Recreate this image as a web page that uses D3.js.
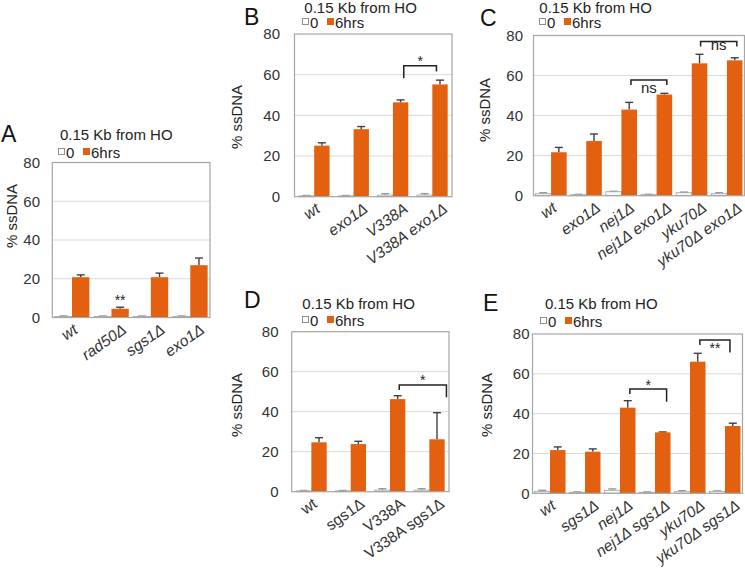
<!DOCTYPE html>
<html><head><meta charset="utf-8">
<script src="https://cdn.jsdelivr.net/npm/d3@7"></script>
<style>
body{margin:0;background:#fff}
svg{display:block}
text{font-family:"Liberation Sans",Arial,sans-serif;fill:#222}
</style>
</head><body>
<svg id="chart" width="745" height="571"></svg>
<script>
// ---------- data ----------
const yTicks = [0, 20, 40, 60, 80];
const seriesNames = ["0", "6hrs"];
const titleText = "0.15 Kb from HO";
const yLabelText = "% ssDNA";

const catsA = ["wt", "rad50Δ", "sgs1Δ", "exo1Δ"];
const zeroA = [0.5, 0.5, 0.5, 0.5];
const zeroErrA = [0.3, 0.3, 0.3, 0.3];
const hrsA = [20.8, 4.5, 20.8, 27.0];
const hrsErrA = [1.2, 0.8, 2.1, 3.7];
const marksA = [{cat: 1, text: "**", y: 6.6}];
const bracketsA = [];

const catsB = ["wt", "exo1Δ", "V338A", "V338A exo1Δ"];
const zeroB = [0.4, 0.4, 0.8, 0.8];
const zeroErrB = [0.2, 0.2, 0.7, 0.7];
const hrsB = [25.1, 33.2, 46.4, 55.2];
const hrsErrB = [1.4, 1.3, 1.2, 2.1];
const marksB = [];
const bracketsB = [{from: 2, to: 3, dFrom: 0.08, dTo: -0.09, top: 64.4, legFrom: 58.2, legTo: 61.5, text: "*", textY: 64.3}];

const catsC = ["wt", "exo1Δ", "nej1Δ", "nej1Δ exo1Δ", "yku70Δ", "yku70Δ exo1Δ"];
const zeroC = [1.0, 0.5, 2.0, 0.5, 1.5, 1.0];
const zeroErrC = [0.5, 0.2, 0.2, 0.2, 0.3, 0.5];
const hrsC = [21.7, 27.3, 43.0, 50.5, 66.1, 67.6];
const hrsErrC = [2.4, 3.5, 3.6, 0.6, 4.5, 1.3];
const marksC = [];
const bracketsC = [
  {from: 2, to: 3, dFrom: 0.05, dTo: 0.07, top: 57.8, legFrom: 55.3, legTo: 55.3, text: "ns", textY: 51.2},
  {from: 4, to: 5, dFrom: 0.03, dTo: 0.06, top: 77.0, legFrom: 74.5, legTo: 74.5, text: "ns", textY: 72.8}
];

const catsD = ["wt", "sgs1Δ", "V338A", "V338A sgs1Δ"];
const zeroD = [0.4, 0.4, 0.8, 0.8];
const zeroErrD = [0.2, 0.2, 0.7, 0.7];
const hrsD = [24.7, 23.8, 46.3, 26.2];
const hrsErrD = [2.3, 1.4, 1.7, 13.3];
const marksD = [];
const bracketsD = [{from: 2, to: 3, dFrom: 0.04, dTo: 0.24, top: 53.4, legFrom: 50.9, legTo: 47.2, text: "*", textY: 53.5}];

const catsE = ["wt", "sgs1Δ", "nej1Δ", "nej1Δ sgs1Δ", "yku70Δ", "yku70Δ sgs1Δ"];
const zeroE = [1.0, 0.5, 1.5, 0.5, 0.8, 1.0];
const zeroErrE = [0.5, 0.2, 0.7, 0.2, 0.5, 0.2];
const hrsE = [21.7, 20.9, 43.0, 30.6, 66.1, 33.8];
const hrsErrE = [1.6, 1.4, 3.5, 0.2, 4.2, 1.4];
const marksE = [];
const bracketsE = [
  {from: 2, to: 3, dFrom: 0.06, dTo: 0.11, top: 52.4, legFrom: 49.9, legTo: 46.0, text: "*", textY: 52.1},
  {from: 4, to: 5, dFrom: 0.06, dTo: -0.08, top: 77.0, legFrom: 74.5, legTo: 70.7, text: "**", textY: 70.5}
];

// ---------- layout / style ----------
const ORANGE = "#e2600f";
const LABEL_ANGLE = 35;
const panels = [
  {letter: "A", cats: catsA, zero: zeroA, zeroErr: zeroErrA, hrs: hrsA, hrsErr: hrsErrA, marks: marksA, brackets: bracketsA,
   x0: 52.3, x1: 210, y0: 162.5, y1: 317.5, gap: 0.12, letterX: 1, letterY: 142, titleX: 60, titleY: 139.5,
   legX: 58, legY: 158, tickX: 40, ylabX: 11.5, ylabY: 216, italic: true},
  {letter: "B", cats: catsB, zero: zeroB, zeroErr: zeroErrB, hrs: hrsB, hrsErr: hrsErrB, marks: marksB, brackets: bracketsB,
   x0: 294.5, x1: 452, y0: 34, y1: 196.7, gap: 0.22, letterX: 244, letterY: 25, titleX: 304.3, titleY: 12.5,
   legX: 302, legY: 28, tickX: 280, ylabX: 237, ylabY: 117, italic: true},
  {letter: "C", cats: catsC, zero: zeroC, zeroErr: zeroErrC, hrs: hrsC, hrsErr: hrsErrC, marks: marksC, brackets: bracketsC,
   x0: 533.5, x1: 744.5, y0: 35.5, y1: 195.7, gap: 0.114, letterX: 480, letterY: 26, titleX: 539.3, titleY: 12.5,
   legX: 539, legY: 28, tickX: 523, ylabX: 485, ylabY: 110, italic: true},
  {letter: "D", cats: catsD, zero: zeroD, zeroErr: zeroErrD, hrs: hrsD, hrsErr: hrsErrD, marks: marksD, brackets: bracketsD,
   x0: 291.7, x1: 449, y0: 331.7, y1: 491.7, gap: 0.22, letterX: 244, letterY: 308, titleX: 302.3, titleY: 309,
   legX: 302, legY: 326, tickX: 278.5, ylabX: 237, ylabY: 405, italic: false},
  {letter: "E", cats: catsE, zero: zeroE, zeroErr: zeroErrE, hrs: hrsE, hrsErr: hrsErrE, marks: marksE, brackets: bracketsE,
   x0: 532.5, x1: 742.5, y0: 334, y1: 493.3, gap: 0.114, letterX: 483, letterY: 311, titleX: 545, titleY: 309,
   legX: 540, legY: 327, tickX: 529.5, ylabX: 487, ylabY: 405, italic: true}
];

const svg = d3.select("#chart");
const FONT = '"Liberation Sans",Arial,sans-serif';

panels.forEach(p => {
  const g = svg.append("g");
  const x = d3.scaleBand().domain(p.cats).range([p.x0, p.x1]).paddingInner(0).paddingOuter(0);
  const bw = x.bandwidth();
  const xs = d3.scaleBand().domain(seriesNames).range([p.gap * bw / 2, bw - p.gap * bw / 2]);
  const y = d3.scaleLinear().domain([0, 80]).range([p.y1, p.y0]);

  g.append("g").selectAll("line").data(yTicks.filter(t => t > 0 && t < 80)).join("line")
    .attr("x1", p.x0).attr("x2", p.x1).attr("y1", d => y(d)).attr("y2", d => y(d))
    .attr("stroke", "#d9d9d9").attr("stroke-width", 1);

  const ya = g.append("g").attr("transform", `translate(${p.x0},0)`)
    .call(d3.axisLeft(y).tickValues(yTicks).tickSize(0).tickPadding(p.x0 - p.tickX));
  ya.select(".domain").remove();
  ya.selectAll("text").style("font-size", "15px").style("fill", "#333").style("font-family", FONT);

  const rows = p.cats.map((c, i) => ({cat: c, vals: [
    {s: "0", v: p.zero[i], e: p.zeroErr[i]},
    {s: "6hrs", v: p.hrs[i], e: p.hrsErr[i]}
  ]}));
  const grp = g.append("g").selectAll("g").data(rows).join("g")
    .attr("transform", d => `translate(${x(d.cat)},0)`);
  grp.selectAll("g.err").data(d => d.vals).join("g").attr("class", "err").each(function(d) {
    const cx = xs(d.s) + xs.bandwidth() / 2;
    const col = d.s === "0" ? "#9a9a9a" : "#404040";
    const s = d3.select(this);
    s.append("line").attr("x1", cx).attr("x2", cx).attr("y1", y(d.v)).attr("y2", y(d.v + d.e))
      .attr("stroke", col).attr("stroke-width", 1.4);
    s.append("line").attr("x1", cx - 4).attr("x2", cx + 4).attr("y1", y(d.v + d.e)).attr("y2", y(d.v + d.e))
      .attr("stroke", col).attr("stroke-width", 1.4);
  });
  grp.selectAll("rect").data(d => d.vals).join("rect")
    .attr("x", d => xs(d.s)).attr("width", xs.bandwidth())
    .attr("y", d => y(d.v)).attr("height", d => y(0) - y(d.v))
    .attr("fill", d => d.s === "0" ? "#f7f7f7" : ORANGE)
    .attr("stroke", d => d.s === "0" ? "#a0a0a0" : "none").attr("stroke-width", 0.8);

  g.append("rect").attr("x", p.x0).attr("y", p.y0).attr("width", p.x1 - p.x0).attr("height", p.y1 - p.y0)
    .attr("fill", "none").attr("stroke", "#a6a6a6").attr("stroke-width", 1.2);

  const xa = g.append("g").attr("transform", `translate(0,${p.y1})`)
    .call(d3.axisBottom(x).tickSize(0));
  xa.select(".domain").remove();
  xa.selectAll("text")
    .attr("text-anchor", "end").attr("x", 0).attr("y", 0).attr("dy", "0.35em")
    .style("font-size", "15.5px").style("fill", "#333")
    .style("font-style", p.italic ? "italic" : "normal")
    .style("font-family", FONT)
    .attr("transform", function() {
      const L = this.getComputedTextLength();
      const dx = Math.min(0.3 * L - 1, 13);
      return `translate(${dx},10) rotate(${-LABEL_ANGLE})`;
    });

  const oc = i => x(p.cats[i]) + xs("6hrs") + xs.bandwidth() / 2;

  p.marks.forEach(m => {
    g.append("text").attr("x", oc(m.cat)).attr("y", y(m.y)).attr("text-anchor", "middle")
      .style("font-size", "14px").text(m.text);
  });
  p.brackets.forEach(b => {
    const xa1 = oc(b.from) + b.dFrom * bw, xb1 = oc(b.to) + b.dTo * bw;
    g.append("path")
      .attr("d", `M${xa1},${y(b.legFrom)}V${y(b.top)}H${xb1}V${y(b.legTo)}`)
      .attr("fill", "none").attr("stroke", "#222").attr("stroke-width", 1.5);
    g.append("text").attr("x", (xa1 + xb1) / 2).attr("y", y(b.textY)).attr("text-anchor", "middle")
      .style("font-size", b.text === "ns" ? "15px" : "14px").text(b.text);
  });

  g.append("text").attr("x", p.titleX).attr("y", p.titleY).style("font-size", "15px").text(titleText);
  g.append("rect").attr("x", p.legX + 0.5).attr("y", p.legY - 9.5).attr("width", 6).attr("height", 6)
    .attr("fill", "#fff").attr("stroke", "#909090").attr("stroke-width", 1);
  g.append("text").attr("x", p.legX + 8).attr("y", p.legY).style("font-size", "15px").text(seriesNames[0]);
  g.append("rect").attr("x", p.legX + 25).attr("y", p.legY - 10).attr("width", 7).attr("height", 7)
    .attr("fill", ORANGE);
  g.append("text").attr("x", p.legX + 33).attr("y", p.legY).style("font-size", "15px").text(seriesNames[1]);

  g.append("text").attr("transform", `translate(${p.ylabX},${p.ylabY}) rotate(-90)`)
    .attr("text-anchor", "middle").attr("dy", "0.35em").style("font-size", "15px").text(yLabelText);

  g.append("text").attr("x", p.letterX).attr("y", p.letterY).style("font-size", "23px").style("fill", "#111").text(p.letter);
});
</script>
</body></html>
